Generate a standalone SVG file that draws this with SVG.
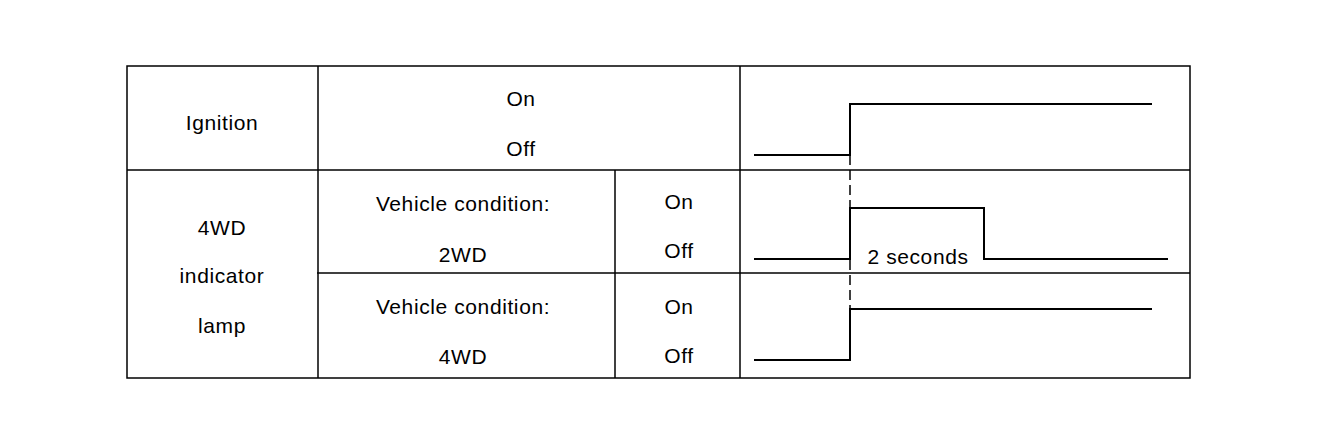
<svg xmlns="http://www.w3.org/2000/svg" width="1328" height="438" viewBox="0 0 1328 438">
<style>
.t{font-family:"Liberation Sans",Arial,sans-serif;font-size:21px;fill:#000;text-anchor:middle;dominant-baseline:central;letter-spacing:0.6px}
.g{stroke:#000;stroke-width:1.5;fill:none}
.w{stroke:#000;stroke-width:2;fill:none}
.d{stroke:#000;stroke-width:1.5;fill:none;stroke-dasharray:10,5}
</style>
<rect width="1328" height="438" fill="#fff"/>
<g id="grid">
<rect class="g" x="127" y="66" width="1063" height="312"/>
<line class="g" x1="127" y1="170" x2="1190" y2="170"/>
<line class="g" x1="317" y1="273" x2="1190" y2="273"/>
<line class="g" x1="318" y1="66" x2="318" y2="378"/>
<line class="g" x1="740" y1="66" x2="740" y2="378"/>
<line class="g" x1="615" y1="170" x2="615" y2="378"/>
</g>
<g id="labels">
<text class="t" x="222" y="122">Ignition</text>
<text class="t" x="521" y="98">On</text>
<text class="t" x="521" y="148">Off</text>
<text class="t" x="222" y="227">4WD</text>
<text class="t" x="222" y="275">indicator</text>
<text class="t" x="222" y="325">lamp</text>
<text class="t" x="463" y="203">Vehicle condition:</text>
<text class="t" x="463" y="254">2WD</text>
<text class="t" x="679" y="201">On</text>
<text class="t" x="679" y="250">Off</text>
<text class="t" x="463" y="306">Vehicle condition:</text>
<text class="t" x="463" y="356">4WD</text>
<text class="t" x="679" y="306">On</text>
<text class="t" x="679" y="355">Off</text>
<text class="t" x="918" y="256">2 seconds</text>
</g>
<g id="connectors">
<polyline class="w" points="754,155 850,155 850,104 1152,104"/>
<polyline class="w" points="754,259 850,259 850,208 984,208 984,259 1168,259"/>
<polyline class="w" points="754,360 850,360 850,309 1152,309"/>
<line class="d" x1="850" y1="155" x2="850" y2="309"/>
</g>
</svg>
